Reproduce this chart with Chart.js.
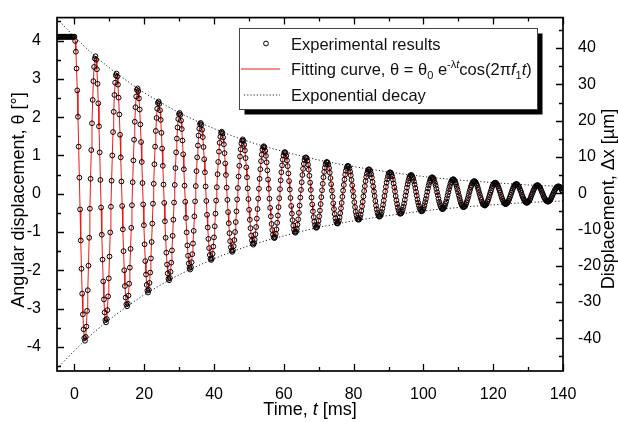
<!DOCTYPE html>
<html>
<head>
<meta charset="utf-8">
<script src="https://cdn.jsdelivr.net/npm/chart.js@4.4.1/dist/chart.umd.min.js"></script>
<style>
    html, body { margin: 0; padding: 0; background: #fff; }
    #wrap { width: 618px; height: 422px; }
</style>
</head>
<body>
<div id="wrap"><canvas id="decayChart" width="618" height="422"></canvas></div>
<script>
// Sampling of the recorded signal (ms)
const sampleStep = 0.201;
const firstSampleTime = -5.025;

// Angle before release, held at the start value
const preTrigger = [4.1, 4.1, 4.1, 4.1, 4.1, 4.1, 4.1, 4.1, 4.1, 4.1, 4.1, 4.1, 4.1,
    4.1, 4.1, 4.1, 4.1, 4.1, 4.1, 4.1, 4.1, 4.1, 4.1, 4.1, 4.1];

// Measured angular displacement [deg], one oscillation per line
const thetaMeasured = [
    4.10,3.99,3.71,3.27,2.70,2.01,1.23,0.42,-0.41,-1.22,-1.96,-2.61,-3.15,-3.54,-3.77,-3.84,-3.74,-3.47,-3.06,-2.52,-1.88,-1.15,-0.39,0.39,1.14,1.84,2.45,2.94,3.31,3.53,
    3.59,3.50,3.25,2.87,2.36,1.76,1.08,0.36,-0.36,-1.07,-1.72,-2.29,-2.76,-3.10,-3.30,-3.36,-3.27,-3.04,-2.68,-2.21,-1.64,-1.01,-0.34,0.34,1.00,1.61,2.14,2.58,2.90,3.09,
    3.14,3.06,2.85,2.51,2.07,1.54,0.95,0.32,-0.32,-0.93,-1.50,-2.00,-2.41,-2.71,-2.89,-2.94,-2.87,-2.66,-2.35,-1.93,-1.44,-0.89,-0.30,0.30,0.87,1.41,1.88,2.26,2.54,2.71,
    2.75,2.68,2.49,2.20,1.81,1.35,0.83,0.28,-0.28,-0.82,-1.32,-1.76,-2.11,-2.38,-2.53,-2.58,-2.51,-2.33,-2.06,-1.69,-1.26,-0.78,-0.26,0.26,0.77,1.23,1.64,1.98,2.22,2.37,
    2.41,2.35,2.18,1.93,1.59,1.18,0.73,0.24,-0.24,-0.72,-1.15,-1.54,-1.85,-2.08,-2.22,-2.26,-2.20,-2.04,-1.80,-1.48,-1.10,-0.68,-0.23,0.23,0.67,1.08,1.44,1.73,1.95,2.08,
    2.11,2.06,1.91,1.69,1.39,1.03,0.64,0.21,-0.21,-0.63,-1.01,-1.35,-1.62,-1.82,-1.94,-1.98,-1.92,-1.79,-1.58,-1.30,-0.97,-0.59,-0.20,0.20,0.59,0.95,1.26,1.52,1.70,1.82,
    1.85,1.80,1.67,1.48,1.22,0.90,0.56,0.19,-0.19,-0.55,-0.88,-1.18,-1.42,-1.60,-1.70,-1.73,-1.69,-1.57,-1.38,-1.14,-0.85,-0.52,-0.18,0.17,0.51,0.83,1.10,1.33,1.49,1.59,
    1.62,1.58,1.47,1.29,1.06,0.79,0.49,0.16,-0.16,-0.48,-0.77,-1.03,-1.24,-1.40,-1.49,-1.52,-1.48,-1.37,-1.21,-1.00,-0.74,-0.46,-0.15,0.15,0.45,0.73,0.97,1.16,1.31,1.39,
    1.42,1.38,1.28,1.13,0.93,0.69,0.43,0.14,-0.14,-0.42,-0.68,-0.90,-1.09,-1.22,-1.30,-1.33,-1.29,-1.20,-1.06,-0.87,-0.65,-0.40,-0.13,0.13,0.39,0.64,0.85,1.02,1.15,1.22,
    1.24,1.21,1.12,0.99,0.82,0.61,0.37,0.13,-0.13,-0.37,-0.59,-0.79,-0.95,-1.07,-1.14,-1.16,-1.13,-1.05,-0.93,-0.76,-0.57,-0.35,-0.12,0.12,0.35,0.56,0.74,0.89,1.00,1.07,
    1.09,1.06,0.99,0.87,0.72,0.53,0.33,0.11,-0.11,-0.32,-0.52,-0.69,-0.83,-0.94,-1.00,-1.02,-0.99,-0.92,-0.81,-0.67,-0.50,-0.31,-0.10,0.10,0.30,0.49,0.65,0.78,0.88,0.94,
    0.95,0.93,0.86,0.76,0.63,0.47,0.29,0.10,-0.10,-0.28,-0.46,-0.61,-0.73,-0.82,-0.88,-0.89,-0.87,-0.81,-0.71,-0.59,-0.44,-0.27,-0.09,0.09,0.26,0.43,0.57,0.68,0.77,0.82,
    0.83,0.81,0.76,0.67,0.55,0.41,0.25,0.08,-0.08,-0.25,-0.40,-0.53,-0.64,-0.72,-0.77,-0.78,-0.76,-0.71,-0.62,-0.51,-0.38,-0.24,-0.08,0.08,0.23,0.37,0.50,0.60,0.67,0.72,
    0.73,0.71,0.66,0.58,0.48,0.36,0.22,0.07,-0.07,-0.22,-0.35,-0.47,-0.56,-0.63,-0.67,-0.68,-0.67,-0.62,-0.55,-0.45,-0.33,-0.21,-0.07,0.07,0.20,0.33,0.44,0.52,0.59,0.63,
    0.64,0.62,0.58,0.51,0.42,0.31,0.19,0.06,-0.06,-0.19,-0.31,-0.41,-0.49,-0.55,-0.59,-0.60,-0.58,-0.54,-0.48,-0.39,-0.29,-0.18,-0.06,0.06,0.18,0.29,0.38,0.46,0.52,0.55,
    0.56,0.55,0.51,0.45,0.37,0.27,0.17,0.06,-0.06,-0.17,-0.27,-0.36,-0.43,-0.48,-0.52,-0.52,-0.51,-0.47,-0.42,-0.34,-0.26,-0.16,-0.05,0.05,0.16,0.25,0.33,0.40,0.45,0.48,
    0.49,0.48,0.44,0.39,0.32,0.24,0.15,0.05,-0.05,-0.15,-0.23,-0.31,-0.38,-0.42,-0.45,-0.46,-0.45,-0.42,-0.37,-0.30,-0.22,-0.14,-0.05,0.05,0.14,0.22,0.29,0.35,0.40,0.42,
    0.43,0.42,0.39,0.34,0.28,0.21,0.13,0.04,-0.04,-0.13,-0.21,-0.27,-0.33,-0.37,-0.40,-0.40,-0.39,-0.36,-0.32,-0.26,-0.20,-0.12,-0.04,0.04,0.12,0.19,0.26,0.31,0.35,0.37,
    0.38,0.37,0.34,0.30,0.25,0.18,0.11,0.04,-0.04,-0.11,-0.18,-0.24,-0.29,-0.32,-0.35,-0.35,-0.34,-0.32,-0.28,-0.23,-0.17,-0.11,-0.04,0.04,0.10,0.17,0.22,0.27,0.30,0.32,
    0.33,0.32,0.30,0.26,0.22,0.16,0.10,0.03,-0.03,-0.10,-0.16,-0.21,-0.25,-0.28,-0.30,-0.31,-0.30,-0.28,-0.25,-0.20,-0.15,-0.09,-0.03,0.03,0.09,0.15,0.20,0.24,0.27,0.28,
    0.29,0.28,0.26,0.23,0.19,0.14,0.09,0.03,-0.03,-0.09,-0.14,-0.18,-0.22,-0.25,-0.27,-0.27,-0.26,-0.24,-0.22,-0.18,-0.13,-0.08,-0.03,0.03,0.08,0.13,0.17,0.21,0.23,0.25,
    0.25,0.25,0.23,0.20,0.17,0.12,0.08,0.03,-0.03,-0.08,-0.12,-0.16,-0.19,-0.22,-0.23,-0.24,-0.23,-0.21,-0.19,-0.16,-0.12,-0.07,-0.02,0.02,0.07,0.11,0.15,0.18,0.20,0.22,
    0.22,0.22,0.20,0.18,0.15,0.11,0.07,0.02,-0.02,-0.07,-0.11,-0.14,-0.17,-0.19,-0.20,-0.21,-0.20,-0.19,-0.17,-0.14,-0.10,-0.06,-0.02,0.02,0.06,0.10,0.13,0.16,0.18,0.19,
    0.19,0.19,0.18,0.15,0.13,0.09,0.06
];

// Exponential decay envelope
const envelopeTimes = [-5, 0, 5, 10, 15, 20, 30, 40, 50, 60, 70, 80, 90, 100, 110, 120, 130, 140];
const envelopeUpper = [4.57, 4.10, 3.67, 3.29, 2.95, 2.64, 2.12, 1.70, 1.36, 1.10, 0.88, 0.71, 0.57, 0.45, 0.36, 0.29, 0.23, 0.19];
const envelopeLower = [-4.57, -4.10, -3.67, -3.29, -2.95, -2.64, -2.12, -1.70, -1.36, -1.10, -0.88, -0.71, -0.57, -0.45, -0.36, -0.29, -0.23, -0.19];

// Tick labels
const timeTicks = [0, 20, 40, 60, 80, 100, 120, 140];
const angleTicks = [-4, -3, -2, -1, 0, 1, 2, 3, 4];
const displacementTicks = [-40, -30, -20, -10, 0, 10, 20, 30, 40];

const FONT = "'Liberation Sans', Arial, sans-serif";

const measuredPoints = preTrigger.concat(thetaMeasured).map((v, i) => ({ x: firstSampleTime + i * sampleStep, y: v }));
const fitPoints = measuredPoints.slice(preTrigger.length);
const upperPoints = envelopeTimes.map((t, i) => ({ x: t, y: envelopeUpper[i] }));
const lowerPoints = envelopeTimes.map((t, i) => ({ x: t, y: envelopeLower[i] }));

// tick positions every half step, flag true for the labelled ones
function markValues(scale, half) {
    const out = [];
    for (let i = Math.ceil(scale.min / half - 1e-9); i * half <= scale.max + 1e-9; i++) {
        out.push([i * half, i % 2 === 0]);
    }
    return out;
}

function drawRuns(ctx, runs, x, y) {
    let w = 0;
    runs.forEach(r => { ctx.font = r.font; w += ctx.measureText(r.text).width; });
    let cx = x - w / 2;
    runs.forEach(r => {
        ctx.font = r.font;
        ctx.fillText(r.text, cx, y + (r.dy || 0));
        cx += ctx.measureText(r.text).width;
    });
}

function drawRunsLeft(ctx, runs, x, y) {
    let cx = x;
    runs.forEach(r => {
        ctx.font = r.font;
        ctx.fillText(r.text, cx, y + (r.dy || 0));
        cx += ctx.measureText(r.text).width;
    });
}

const framePlugin = {
    id: 'frame',
    afterDatasetsDraw(chart) {
        const { ctx, chartArea: a, scales } = chart;
        ctx.save();
        ctx.strokeStyle = '#000';
        ctx.lineWidth = 1.3;
        ctx.beginPath();
        markValues(scales.x, 10).forEach(([v, major]) => {
            const px = Math.round(scales.x.getPixelForValue(v)) + 0.5;
            const len = major ? 7 : 4;
            ctx.moveTo(px, a.bottom); ctx.lineTo(px, a.bottom - len);
            ctx.moveTo(px, a.top); ctx.lineTo(px, a.top + len);
        });
        markValues(scales.y, 0.5).forEach(([v, major]) => {
            const py = Math.round(scales.y.getPixelForValue(v)) + 0.5;
            ctx.moveTo(a.left, py); ctx.lineTo(a.left + (major ? 7 : 4), py);
        });
        markValues(scales.y1, 5).forEach(([v, major]) => {
            const py = Math.round(scales.y1.getPixelForValue(v)) + 0.5;
            ctx.moveTo(a.right, py); ctx.lineTo(a.right - (major ? 7 : 4), py);
        });
        ctx.stroke();
        ctx.lineWidth = 1.7;
        ctx.strokeRect(a.left, a.top, a.right - a.left, a.bottom - a.top);
        ctx.restore();
    },
    afterDraw(chart) {
        const { ctx, chartArea: a } = chart;
        const f18 = '18px ' + FONT;
        const f18i = 'italic 18px ' + FONT;
        ctx.save();
        ctx.fillStyle = '#000';
        ctx.textAlign = 'left';
        ctx.textBaseline = 'middle';

        // axis titles
        drawRuns(ctx, [
            { text: 'Time, ', font: f18 },
            { text: 't', font: f18i },
            { text: ' [ms]', font: f18 }
        ], (a.left + a.right) / 2, 410);

        ctx.save();
        ctx.translate(19, 200);
        ctx.rotate(-Math.PI / 2);
        drawRuns(ctx, [{ text: 'Angular displacement, θ [°]', font: f18 }], 0, 0);
        ctx.restore();

        ctx.save();
        ctx.translate(609, 199);
        ctx.rotate(-Math.PI / 2);
        drawRuns(ctx, [{ text: 'Displacement, Δx [µm]', font: f18 }], 0, 0);
        ctx.restore();

        // legend box with drop shadow
        const lx = 239.5, ly = 28.5, lw = 298, lh = 81;
        ctx.fillStyle = '#000';
        ctx.fillRect(lx + 5, ly + 5, lw, lh);
        ctx.fillStyle = '#fff';
        ctx.fillRect(lx, ly, lw, lh);
        ctx.strokeStyle = '#444';
        ctx.lineWidth = 1;
        ctx.strokeRect(lx, ly, lw, lh);

        const rows = [43.5, 69, 95];
        const tx = 291;
        const f = '16.5px ' + FONT;
        const fi = 'italic 16.5px ' + FONT;
        const fs = '11px ' + FONT;
        const fsi = 'italic 11px ' + FONT;

        ctx.beginPath();
        ctx.arc(266, rows[0], 2.4, 0, Math.PI * 2);
        ctx.strokeStyle = '#000';
        ctx.stroke();

        ctx.strokeStyle = '#f01818';
        ctx.beginPath();
        ctx.moveTo(241, rows[1]); ctx.lineTo(280, rows[1]);
        ctx.stroke();

        ctx.strokeStyle = '#222';
        ctx.setLineDash([1.2, 2]);
        ctx.beginPath();
        ctx.moveTo(244, rows[2]); ctx.lineTo(280, rows[2]);
        ctx.stroke();
        ctx.setLineDash([]);

        ctx.fillStyle = '#111';
        ctx.textBaseline = 'alphabetic';
        drawRunsLeft(ctx, [{ text: 'Experimental results', font: f }], tx, rows[0] + 6);
        drawRunsLeft(ctx, [
            { text: 'Fitting curve, θ = θ', font: f },
            { text: '0', font: fs, dy: 4 },
            { text: ' e', font: f },
            { text: '-λ', font: fs, dy: -7 },
            { text: 't', font: fsi, dy: -7 },
            { text: 'cos(2π', font: f },
            { text: 'f', font: fi },
            { text: '1', font: fs, dy: 4 },
            { text: 't', font: fi },
            { text: ')', font: f }
        ], tx, rows[1] + 6);
        drawRunsLeft(ctx, [{ text: 'Exponential decay', font: f }], tx, rows[2] + 6);
        ctx.restore();
    }
};

const tickFont = { family: FONT, size: 16 };

new Chart(document.getElementById('decayChart'), {
    type: 'scatter',
    data: {
        datasets: [
            {
                label: 'Experimental results',
                data: measuredPoints,
                showLine: false,
                pointRadius: 2.4,
                pointBorderWidth: 1,
                pointBorderColor: '#000',
                pointBackgroundColor: 'rgba(255,255,255,0)',
                clip: 0,
                order: 0
            },
            {
                label: 'Fitting curve',
                data: fitPoints,
                showLine: true,
                borderColor: '#f01818',
                borderWidth: 1,
                pointRadius: 0,
                order: 1
            },
            {
                label: 'Exponential decay',
                data: upperPoints,
                showLine: true,
                cubicInterpolationMode: 'monotone',
                borderColor: '#222',
                borderWidth: 1,
                borderDash: [1.2, 2.2],
                pointRadius: 0,
                order: 2
            },
            {
                label: 'Exponential decay (lower)',
                data: lowerPoints,
                showLine: true,
                cubicInterpolationMode: 'monotone',
                borderColor: '#222',
                borderWidth: 1,
                borderDash: [1.2, 2.2],
                pointRadius: 0,
                order: 2
            }
        ]
    },
    options: {
        responsive: false,
        animation: false,
        devicePixelRatio: 1,
        layout: { padding: { top: 12, left: 0, right: 0, bottom: 0 } },
        plugins: {
            legend: { display: false },
            tooltip: { enabled: false }
        },
        scales: {
            x: {
                type: 'linear',
                position: 'bottom',
                min: -5,
                max: 140,
                afterBuildTicks: s => { s.ticks = timeTicks.map(v => ({ value: v })); },
                afterFit: s => { s.height = 51; },
                grid: { display: false },
                border: { display: false },
                ticks: { font: tickFont, color: '#000', padding: 6, maxRotation: 0, autoSkip: false }
            },
            y: {
                type: 'linear',
                position: 'left',
                min: -4.63,
                max: 4.6,
                afterBuildTicks: s => { s.ticks = angleTicks.map(v => ({ value: v })); },
                afterFit: s => { s.width = 57; },
                grid: { display: false },
                border: { display: false },
                ticks: { font: tickFont, color: '#000', padding: 8 }
            },
            y1: {
                type: 'linear',
                position: 'right',
                min: -49,
                max: 48.4,
                afterBuildTicks: s => { s.ticks = displacementTicks.map(v => ({ value: v })); },
                afterFit: s => { s.width = 55; },
                grid: { display: false },
                border: { display: false },
                ticks: { font: tickFont, color: '#000', padding: 7 }
            }
        }
    },
    plugins: [framePlugin]
});
</script>
</body>
</html>
